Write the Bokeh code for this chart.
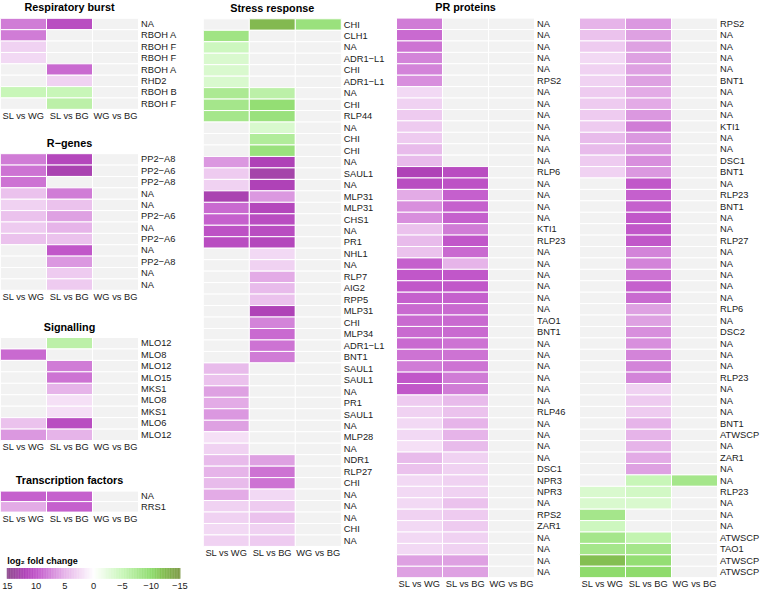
import numpy as np
from bokeh.plotting import figure
from bokeh.models import LinearColorMapper, Range1d, ColumnDataSource
from bokeh.core.properties import value
from bokeh.embed import file_html
from bokeh.resources import INLINE

comparisons = ["SL vs WG", "SL vs BG", "WG vs BG"]

# ---------------- data (log2 fold change, None = not significant) ----------------
resp_genes = ["NA", "RBOH A", "RBOH F", "RBOH F", "RBOH A", "RHD2", "RBOH B", "RBOH F"]
resp_sl_wg = [8, 8, 3, 2.5, None, None, -5, None]
resp_sl_bg = [11, None, None, None, 9, 3, -5, -6]
resp_wg_bg = [None] * 8

rgen_genes = ["PP2−A8", "PP2−A6", "PP2−A8", "NA", "NA", "PP2−A6", "NA", "PP2−A6", "NA", "PP2−A8", "NA", "NA"]
rgen_sl_wg = [8, 8.5, 8.5, 4, 3, 4, 3.5, 4, None, None, None, None]
rgen_sl_bg = [11.5, 12.5, None, 8, 4, 6, 5, 4, 10, 6.5, 3.5, 3.5]
rgen_wg_bg = [None] * 12

sig_genes = ["MLO12", "MLO8", "MLO12", "MLO15", "MKS1", "MLO8", "MKS1", "MLO6", "MLO12"]
sig_sl_wg = [None, 9, None, None, None, None, None, 4, 6.5]
sig_sl_bg = [-6, None, 8, 8.5, 5, 2, 2, 11, 5]
sig_wg_bg = [None] * 9

tf_genes = ["NA", "RRS1"]
tf_sl_wg = [9.5, 5.5]
tf_sl_bg = [9.5, 9.5]
tf_wg_bg = [None, None]

stress_genes = ["CHI", "CLH1", "NA", "ADR1−L1", "CHI", "ADR1−L1", "NA", "CHI", "RLP44", "NA",
                "CHI", "CHI", "NA", "SAUL1", "NA", "MLP31", "MLP31", "CHS1", "NA", "PR1",
                "NHL1", "NA", "RLP7", "AIG2", "RPP5", "MLP31", "CHI", "MLP34", "ADR1−L1", "BNT1",
                "SAUL1", "SAUL1", "NA", "PR1", "SAUL1", "NA", "MLP28", "NA", "NDR1", "RLP27",
                "CHI", "NA", "NA", "NA", "CHI", "NA"]
stress_sl_wg = [None, -8.5, -4.5, -3.5, -3.5, -3.5, -7.5, -8, -8, None,
                None, None, 6.5, 3.5, 3, 12.5, 9, 9.5, 10.5, 11,
                None, None, None, None, None, None, None, None, None, None,
                4.5, 4, 6, 5.5, 6.5, 6, 2, 3, 4.5, 5,
                4.5, 5.5, 3, 3, 2.5, 3]
stress_sl_bg = [-12.5, None, None, None, None, None, -6, -9.5, -9, -3.5,
                -7, -9, 12, 13, 12, 6.5, 11.5, 11, 11, 11.5,
                2.5, 3, 5.5, 4.5, 4, 12, 7.5, 9, 8.5, 8,
                None, None, None, None, None, None, None, None, 6, 8.5,
                8.5, 2.5, 3.5, 4, 3, 3.5]
stress_wg_bg = [-9] + [None] * 45

pr1_genes = ["NA", "NA", "NA", "NA", "NA", "RPS2", "NA", "NA", "NA", "NA",
             "NA", "NA", "NA", "RLP6", "NA", "NA", "NA", "NA", "KTI1", "RLP23",
             "NA", "NA", "NA", "NA", "NA", "NA", "TAO1", "BNT1", "NA", "NA",
             "NA", "NA", "NA", "NA", "RLP46", "NA", "NA", "NA", "NA", "DSC1",
             "NPR3", "NPR3", "NA", "RPS2", "ZAR1", "NA", "NA", "NA", "NA"]
pr1_sl_wg = [8, 9, 8.5, 7.5, 7.5, 7, 2.5, 3, 3.5, 3.5,
             3.5, 4.5, 4.5, 12, 11, 5.5, 7, 7, 4, 4.5,
             4, 9.5, 10, 10, 9.5, 9, 9, 9, 9, 8.5,
             8, 10, 10, 3.5, 3, 2.5, 2.5, 2, 4.5, 4,
             2.5, 2.5, 2.5, 3, 2.5, 2.5, 2.5, 6, 6]
pr1_sl_bg = [None] * 13 + [11, 10.5, 9.5, 9.5, 9.5, 8, 10,
             9, 5, 10, 10, 9.5, 9, 9, 9, 8.5, 8.5,
             8.5, 8, 8, 4.5, 4, 5, 5, 4.5, 3, 3,
             3, 3, 4, 3.5, 3.5, 3, 3, 6, 6]
pr1_wg_bg = [None] * 49

pr2_genes = ["RPS2", "NA", "NA", "NA", "NA", "BNT1", "NA", "NA", "NA", "KTI1",
             "NA", "NA", "DSC1", "BNT1", "NA", "RLP23", "BNT1", "NA", "NA", "RLP27",
             "NA", "NA", "NA", "NA", "NA", "RLP6", "NA", "DSC2", "NA", "NA",
             "NA", "RLP23", "NA", "NA", "NA", "BNT1", "ATWSCP", "NA", "ZAR1", "NA",
             "NA", "RLP23", "NA", "NA", "NA", "ATWSCP", "TAO1", "ATWSCP", "ATWSCP"]
pr2_sl_wg = [5, 4, 3.5, 2.5, 3, 3, 3.5, 3.5, 3.5, 3.5,
             4.5, 4.5, 3.5, 3] + [None] * 27 + [-3.5, -3.5, -8, -4.5, -8, -8, -12, -10]
pr2_sl_bg = [6.5, 6, 6, 6, 6, 6, 5.5, 5.5, 6.5, 8,
             6.5, 6.5, 7, 6.5, 10, 9.5, 9.5, 10, 10, 10,
             7.5, 7.5, 8.5, 9.5, 9, 6, 6, 7, 7, 7.5,
             7.5, 7.5, 3, 3.5, 3.5, 5, 5, 5, 5.5, 6,
             -5, -4, -3.5, None, None, -5.5, -8, -9.5, -10]
pr2_wg_bg = [None] * 40 + [-8] + [None] * 8

legend_title = "log₂ fold change"
legend_ticks = [15, 10, 5, 0, -5, -10, -15]

# ---------------- colour scale ----------------
anchor_vals = [-15, -12, -10, -5, 0, 5, 10, 12, 15]
anchor_cols = ["#7E9A48", "#84C052", "#8FDC6E", "#C8F6B8", "#FFFFFF",
               "#E6B4E9", "#C258CA", "#B042B8", "#8E4A8E"]


def hex2rgb(h):
    h = h.lstrip("#")
    return [int(h[i:i + 2], 16) for i in (0, 2, 4)]


def build_palette(n=256):
    rgbs = np.array([hex2rgb(c) for c in anchor_cols], dtype=float)
    out = []
    for t in np.linspace(-15, 15, n):
        r, g, b = (np.interp(t, anchor_vals, rgbs[:, k]) for k in range(3))
        out.append("#%02x%02x%02x" % (int(round(r)), int(round(g)), int(round(b))))
    return out


mapper = LinearColorMapper(palette=build_palette(), low=-15, high=15, nan_color="#F2F2F2")

# ---------------- layout (pixel units of the canvas) ----------------
W, H = 762, 590
CW = 46.0
FONT = "Liberation Sans"
TXT = "#1a1a1a"

panels = [
    # title, genes, values, x0, top, row height
    ("Respiratory burst", resp_genes, (resp_sl_wg, resp_sl_bg, resp_wg_bg), 0.0, 17.8, 11.38),
    ("R−genes", rgen_genes, (rgen_sl_wg, rgen_sl_bg, rgen_wg_bg), 0.0, 153.2, 11.38),
    ("Signalling", sig_genes, (sig_sl_wg, sig_sl_bg, sig_wg_bg), 0.0, 337.0, 11.45),
    ("Transcription factors", tf_genes, (tf_sl_wg, tf_sl_bg, tf_wg_bg), 0.0, 490.6, 10.5),
    ("Stress response", stress_genes, (stress_sl_wg, stress_sl_bg, stress_wg_bg), 202.8, 18.3, 11.47),
    ("PR proteins", pr1_genes, (pr1_sl_wg, pr1_sl_bg, pr1_wg_bg), 396.0, 17.6, 11.42),
    ("", pr2_genes, (pr2_sl_wg, pr2_sl_bg, pr2_wg_bg), 579.0, 17.6, 11.42),
]

cell = dict(x=[], y=[], w=[], h=[], v=[])
glab = dict(x=[], y=[], t=[])
xlab = dict(x=[], y=[], t=[])
tlab = dict(x=[], y=[], t=[])

for title, genes, vals, x0, top, rh in panels:
    n = len(genes)
    for j, colvals in enumerate(vals):
        for i, v in enumerate(colvals):
            cell["x"].append(x0 + (j + 0.5) * CW)
            cell["y"].append(top + (i + 0.5) * rh)
            cell["w"].append(CW)
            cell["h"].append(rh)
            cell["v"].append(np.nan if v is None else float(v))
    for i, g in enumerate(genes):
        glab["x"].append(x0 + 3 * CW + 2.5)
        glab["y"].append(top + (i + 0.5) * rh)
        glab["t"].append(g)
    for j, c in enumerate(comparisons):
        xlab["x"].append(x0 + (j + 0.5) * CW)
        xlab["y"].append(top + n * rh + 6.8)
        xlab["t"].append(c)
    if title:
        tlab["x"].append(x0 + 1.5 * CW)
        tlab["y"].append(top - 11.0)
        tlab["t"].append(title)

cell["v"] = np.array(cell["v"], dtype=float)

p = figure(width=W, height=H, x_range=Range1d(0, W), y_range=Range1d(H, 0),
           x_axis_location=None, y_axis_location=None,
           output_backend="svg", toolbar_location=None,
           min_border=0, min_border_left=0, min_border_right=0,
           min_border_top=0, min_border_bottom=0)
p.xgrid.visible = False
p.ygrid.visible = False
p.outline_line_color = None

p.rect(x="x", y="y", width="w", height="h", source=ColumnDataSource(cell),
       fill_color={"field": "v", "transform": mapper},
       line_color="white", line_width=1)

p.text(x="x", y="y", text="t", source=ColumnDataSource(glab),
       text_font=value(FONT), text_font_size=value("9.3px"), text_color=TXT,
       text_align="left", text_baseline="middle")
p.text(x="x", y="y", text="t", source=ColumnDataSource(xlab),
       text_font=value(FONT), text_font_size=value("9.3px"), text_color=TXT,
       text_align="center", text_baseline="middle")
p.text(x="x", y="y", text="t", source=ColumnDataSource(tlab),
       text_font=value(FONT), text_font_size=value("10.8px"), text_font_style="bold",
       text_color="black", text_align="center", text_baseline="middle")

# ---------------- legend (colour bar) ----------------
LB_L, LB_W, LB_Y, LB_H = 6.8, 172.6, 572.8, 10.7
grad = np.linspace(-15, 15, 241)
gx = LB_L + (15 - grad) / 30.0 * LB_W
p.rect(x=gx, y=LB_Y, width=LB_W / 240 * 1.5, height=LB_H,
       fill_color=[mapper.palette[min(255, int((g + 15) / 30 * 256))] for g in grad],
       line_color=None)
p.text(x=[LB_L], y=[560.6], text=[legend_title],
       text_font=value(FONT), text_font_size=value("9px"), text_font_style="bold",
       text_color="black", text_align="left", text_baseline="middle")
p.text(x=[LB_L + (15 - t) / 30.0 * LB_W for t in legend_ticks], y=[585.5] * len(legend_ticks),
       text=[str(t) if t >= 0 else "−" + str(-t) for t in legend_ticks],
       text_font=value(FONT), text_font_size=value("9.3px"), text_color=TXT,
       text_align="center", text_baseline="middle")

open("out.html", "w").write(file_html(p, INLINE))
